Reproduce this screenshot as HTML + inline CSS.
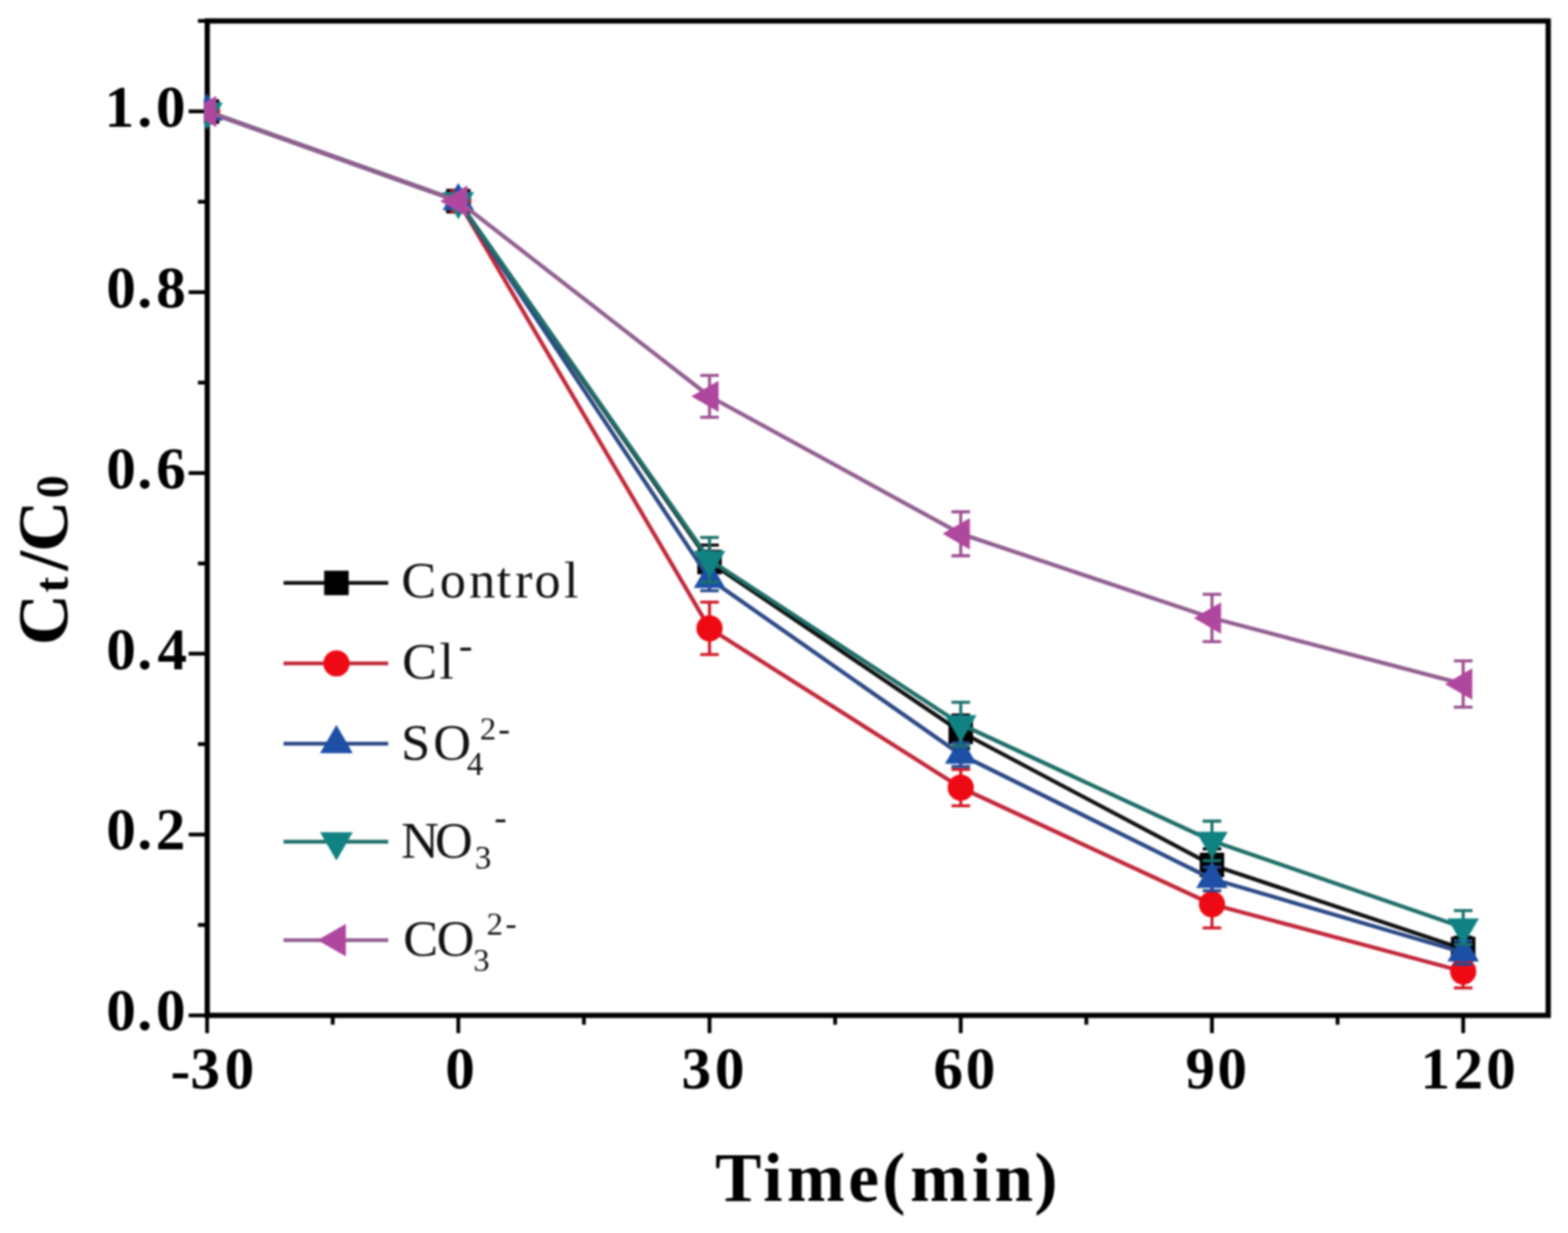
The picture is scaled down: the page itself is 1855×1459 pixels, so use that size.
<!DOCTYPE html>
<html><head><meta charset="utf-8"><title>Ct/C0 vs Time</title>
<style>html,body{margin:0;padding:0;background:#fff;overflow:hidden}svg{display:block;filter:blur(0.9px)}
text{font-family:"Liberation Serif","Times New Roman",serif}</style></head>
<body>
<svg width="1855" height="1459" viewBox="0 0 1855 1459">
<rect width="1855" height="1459" fill="#fff"/>
<defs><clipPath id="pc"><rect x="241.5" y="0" width="1600" height="1210"/></clipPath></defs>
<rect x="245.2" y="24.8" width="1586.4" height="1176.7" fill="none" stroke="#000" stroke-width="6.2"/>
<path d="M245 1201.5V1222.5M393.6 1201.5V1212.5M542.2 1201.5V1222.5M690.8 1201.5V1212.5M839.4 1201.5V1222.5M988 1201.5V1212.5M1136.6 1201.5V1222.5M1285.2 1201.5V1212.5M1433.8 1201.5V1222.5M1582.4 1201.5V1212.5M1731 1201.5V1222.5M245.2 1201.5H223.2M245.2 1094.53H234.2M245.2 987.56H223.2M245.2 880.59H234.2M245.2 773.62H223.2M245.2 666.65H234.2M245.2 559.68H223.2M245.2 452.71H234.2M245.2 345.74H223.2M245.2 238.77H234.2M245.2 131.8H223.2M245.2 24.83H234.2" stroke="#000" stroke-width="4.5" fill="none"/>
<g clip-path="url(#pc)">
<polyline points="245,132 542.2,238 839.4,665 1136.6,866 1433.8,1023.5 1731,1123" fill="none" stroke="#111111" stroke-width="4.8" stroke-linejoin="round"/>
<path d="M839.4 645V685M828.4 645H850.4M828.4 685H850.4" stroke="#000000" stroke-width="3.6" fill="none"/>
<path d="M1136.6 846V886M1125.6 846H1147.6M1125.6 886H1147.6" stroke="#000000" stroke-width="3.6" fill="none"/>
<path d="M1433.8 1004.5V1042.5M1422.8 1004.5H1444.8M1422.8 1042.5H1444.8" stroke="#000000" stroke-width="3.6" fill="none"/>
<path d="M1731 1109V1137M1720 1109H1742M1720 1137H1742" stroke="#000000" stroke-width="3.6" fill="none"/>
<rect x="230.5" y="117.5" width="29" height="29" fill="#000000"/>
<rect x="527.7" y="223.5" width="29" height="29" fill="#000000"/>
<rect x="824.9" y="650.5" width="29" height="29" fill="#000000"/>
<rect x="1122.1" y="851.5" width="29" height="29" fill="#000000"/>
<rect x="1419.3" y="1009" width="29" height="29" fill="#000000"/>
<rect x="1716.5" y="1108.5" width="29" height="29" fill="#000000"/>
<polyline points="245,132 542.2,238 839.4,743.5 1136.6,932 1433.8,1070 1731,1149.5" fill="none" stroke="#c2283a" stroke-width="4.8" stroke-linejoin="round"/>
<path d="M839.4 712.5V774.5M828.4 712.5H850.4M828.4 774.5H850.4" stroke="#d01a26" stroke-width="3.6" fill="none"/>
<path d="M1136.6 910.5V953.5M1125.6 910.5H1147.6M1125.6 953.5H1147.6" stroke="#d01a26" stroke-width="3.6" fill="none"/>
<path d="M1433.8 1042V1098M1422.8 1042H1444.8M1422.8 1098H1444.8" stroke="#d01a26" stroke-width="3.6" fill="none"/>
<path d="M1731 1130V1169M1720 1130H1742M1720 1169H1742" stroke="#d01a26" stroke-width="3.6" fill="none"/>
<circle cx="245" cy="132" r="15.5" fill="#ee0a14"/>
<circle cx="542.2" cy="238" r="15.5" fill="#ee0a14"/>
<circle cx="839.4" cy="743.5" r="15.5" fill="#ee0a14"/>
<circle cx="1136.6" cy="932" r="15.5" fill="#ee0a14"/>
<circle cx="1433.8" cy="1070" r="15.5" fill="#ee0a14"/>
<circle cx="1731" cy="1149.5" r="15.5" fill="#ee0a14"/>
<polyline points="245,132 542.2,238 839.4,685 1136.6,893 1433.8,1040 1731,1127" fill="none" stroke="#2b4a86" stroke-width="4.8" stroke-linejoin="round"/>
<path d="M839.4 671V699M828.4 671H850.4M828.4 699H850.4" stroke="#264a8e" stroke-width="3.6" fill="none"/>
<path d="M1136.6 879V907M1125.6 879H1147.6M1125.6 907H1147.6" stroke="#264a8e" stroke-width="3.6" fill="none"/>
<path d="M1433.8 1026V1054M1422.8 1026H1444.8M1422.8 1054H1444.8" stroke="#264a8e" stroke-width="3.6" fill="none"/>
<path d="M1731 1113V1141M1720 1113H1742M1720 1141H1742" stroke="#264a8e" stroke-width="3.6" fill="none"/>
<polygon points="245,110.5 263.62,142.75 226.38,142.75" fill="#1d4fa6"/>
<polygon points="542.2,216.5 560.82,248.75 523.58,248.75" fill="#1d4fa6"/>
<polygon points="839.4,663.5 858.02,695.75 820.78,695.75" fill="#1d4fa6"/>
<polygon points="1136.6,871.5 1155.22,903.75 1117.98,903.75" fill="#1d4fa6"/>
<polygon points="1433.8,1018.5 1452.42,1050.75 1415.18,1050.75" fill="#1d4fa6"/>
<polygon points="1731,1105.5 1749.62,1137.75 1712.38,1137.75" fill="#1d4fa6"/>
<polyline points="245,132 542.2,238 839.4,662.5 1136.6,857 1433.8,995 1731,1097.5" fill="none" stroke="#1f6e69" stroke-width="4.8" stroke-linejoin="round"/>
<path d="M839.4 636V689M828.4 636H850.4M828.4 689H850.4" stroke="#1a706c" stroke-width="3.6" fill="none"/>
<path d="M1136.6 831V883M1125.6 831H1147.6M1125.6 883H1147.6" stroke="#1a706c" stroke-width="3.6" fill="none"/>
<path d="M1433.8 971.6V1018.4M1422.8 971.6H1444.8M1422.8 1018.4H1444.8" stroke="#1a706c" stroke-width="3.6" fill="none"/>
<path d="M1731 1077.5V1117.5M1720 1077.5H1742M1720 1117.5H1742" stroke="#1a706c" stroke-width="3.6" fill="none"/>
<polygon points="245,153.5 263.62,121.25 226.38,121.25" fill="#118282"/>
<polygon points="542.2,259.5 560.82,227.25 523.58,227.25" fill="#118282"/>
<polygon points="839.4,684 858.02,651.75 820.78,651.75" fill="#118282"/>
<polygon points="1136.6,878.5 1155.22,846.25 1117.98,846.25" fill="#118282"/>
<polygon points="1433.8,1016.5 1452.42,984.25 1415.18,984.25" fill="#118282"/>
<polygon points="1731,1119 1749.62,1086.75 1712.38,1086.75" fill="#118282"/>
<polyline points="245,132 542.2,238 839.4,469 1136.6,631.6 1433.8,731.3 1731,809.4" fill="none" stroke="#925f90" stroke-width="4.8" stroke-linejoin="round"/>
<path d="M839.4 444.2V493.8M828.4 444.2H850.4M828.4 493.8H850.4" stroke="#9a5090" stroke-width="3.6" fill="none"/>
<path d="M1136.6 605.6V657.6M1125.6 605.6H1147.6M1125.6 657.6H1147.6" stroke="#9a5090" stroke-width="3.6" fill="none"/>
<path d="M1433.8 703.3V759.3M1422.8 703.3H1444.8M1422.8 759.3H1444.8" stroke="#9a5090" stroke-width="3.6" fill="none"/>
<path d="M1731 782V836.8M1720 782H1742M1720 836.8H1742" stroke="#9a5090" stroke-width="3.6" fill="none"/>
<polygon points="223.5,132 255.75,113.38 255.75,150.62" fill="#b0479f"/>
<polygon points="520.7,238 552.95,219.38 552.95,256.62" fill="#b0479f"/>
<polygon points="817.9,469 850.15,450.38 850.15,487.62" fill="#b0479f"/>
<polygon points="1115.1,631.6 1147.35,612.98 1147.35,650.22" fill="#b0479f"/>
<polygon points="1412.3,731.3 1444.55,712.68 1444.55,749.92" fill="#b0479f"/>
<polygon points="1709.5,809.4 1741.75,790.78 1741.75,828.02" fill="#b0479f"/>
</g>
<text x="125.83 162.52 184.43" y="1219.43" font-size="70" font-weight="bold" fill="#000">0.0</text>
<text x="125.83 162.52 184.16" y="1005.49" font-size="70" font-weight="bold" fill="#000">0.2</text>
<text x="125.83 162.52 186.14" y="791.55" font-size="70" font-weight="bold" fill="#000">0.4</text>
<text x="125.83 162.52 184.71" y="577.61" font-size="70" font-weight="bold" fill="#000">0.6</text>
<text x="125.83 162.52 184.78" y="363.67" font-size="70" font-weight="bold" fill="#000">0.8</text>
<text x="123.69 162.52 184.43" y="149.73" font-size="70" font-weight="bold" fill="#000">1.0</text>
<text x="201.74 225.37 265.73" y="1289.9 1288.3 1288.3" font-size="70" font-weight="bold" fill="#000">-30</text>
<text x="526.63" y="1288.3" font-size="70" font-weight="bold" fill="#000">0</text>
<text x="806.27 845.83" y="1288.3 1288.3" font-size="70" font-weight="bold" fill="#000">30</text>
<text x="1104.21 1142.43" y="1288.3 1288.3" font-size="70" font-weight="bold" fill="#000">60</text>
<text x="1402.49 1440.23" y="1288.3 1288.3" font-size="70" font-weight="bold" fill="#000">90</text>
<text x="1680.59 1719.56 1758.23" y="1288.3 1288.3 1288.3" font-size="70" font-weight="bold" fill="#000">120</text>
<text x="845.92 902.9 931 1003.4 1043.7 1076.8 1149.7 1176.6 1223.86" y="1421" font-size="82" font-weight="bold" fill="#000">Time(min)</text>
<text font-weight="bold" fill="#000" transform="translate(80,0) rotate(-90)"><tspan x="-763.4" y="0" font-size="84">C</tspan><tspan x="-701.2" y="0" font-size="56">t</tspan><tspan x="-675.18" y="0" font-size="84">/</tspan><tspan x="-653.1" y="0" font-size="84">C</tspan><tspan x="-589.46" y="0" font-size="54">0</tspan></text>
<line x1="335.4" y1="689.8" x2="459.3" y2="689.8" stroke="#111111" stroke-width="4.5"/>
<rect x="383.5" y="675.3" width="29" height="29" fill="#000000"/>
<line x1="335.4" y1="785" x2="459.3" y2="785" stroke="#c2283a" stroke-width="4.5"/>
<circle cx="398" cy="785" r="15.5" fill="#ee0a14"/>
<line x1="335.4" y1="880" x2="459.3" y2="880" stroke="#2b4a86" stroke-width="4.5"/>
<polygon points="398,857.64 417.36,891.18 378.64,891.18" fill="#1d4fa6"/>
<line x1="335.4" y1="996" x2="459.3" y2="996" stroke="#1f6e69" stroke-width="4.5"/>
<polygon points="398,1018.36 417.36,984.82 378.64,984.82" fill="#118282"/>
<line x1="335.4" y1="1112.5" x2="459.3" y2="1112.5" stroke="#925f90" stroke-width="4.5"/>
<polygon points="375.64,1112.5 409.18,1093.14 409.18,1131.86" fill="#b0479f"/>
<text font-weight="normal" fill="#111111"><tspan x="474.86 520.34 554.88 587.39 609.36 632.24 667.36" y="707.3" font-size="62">Control</tspan></text>
<text font-weight="normal" fill="#111111"><tspan x="475.76 519.76" y="803.4" font-size="62">Cl</tspan><tspan x="542.69" y="780.22" font-size="48.89">-</tspan></text>
<text font-weight="normal" fill="#111111"><tspan x="474.45 512.46" y="899" font-size="62">SO</tspan><tspan x="552.24" y="916.8" font-size="39">4</tspan><tspan x="567.81" y="875" font-size="38.5">2</tspan><tspan x="589.46" y="876.3" font-size="41.58">-</tspan></text>
<text font-weight="normal" fill="#111111"><tspan x="474.41 514.46" y="1015" font-size="62">NO</tspan><tspan x="561.63" y="1028" font-size="39">3</tspan><tspan x="584.86" y="981.93" font-size="44.27">-</tspan></text>
<text font-weight="normal" fill="#111111"><tspan x="476.96 516.46" y="1131" font-size="62">CO</tspan><tspan x="559.96" y="1149" font-size="38.5">3</tspan><tspan x="575.81" y="1105.5" font-size="38.5">2</tspan><tspan x="598.03" y="1106.14" font-size="39.65">-</tspan></text>
</svg>
</body></html>
